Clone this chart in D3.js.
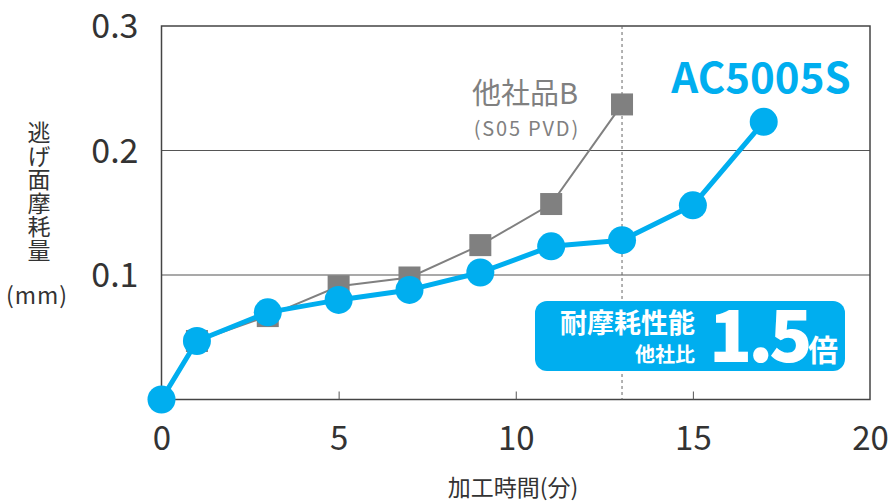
<!DOCTYPE html>
<html><head><meta charset="utf-8">
<script src="https://cdn.jsdelivr.net/npm/d3@7"></script>
<style>body{margin:0;background:#fff}svg{display:block}text{font-family:"Noto Sans CJK JP","Noto Sans",sans-serif}</style>
</head><body><svg id="c" width="890" height="502"></svg>
<script>
const xTicks = [0, 5, 10, 15, 20];
const yTicks = [0.1, 0.2, 0.3];
const yTickLabels = ["0.1", "0.2", "0.3"];
const timeA = [0, 1, 3, 5, 7, 9, 11, 13, 15, 17];
const wearA = [0, 0.047, 0.070, 0.080, 0.088, 0.102, 0.123, 0.128, 0.156, 0.223];
const timeB = [0, 1, 3, 5, 7, 9, 11, 13];
const wearB = [0, 0.047, 0.067, 0.091, 0.098, 0.124, 0.157, 0.237];
const nameA = "AC5005S";
const nameB = "他社品B";
const subB = "(S05 PVD)";
const markX = 13;

const svg = d3.select("#c");
const L = 161.5, R = 870, T = 26, B = 399.5;
const x = d3.scaleLinear().domain([0, 20]).range([L, R]);
const y = d3.scaleLinear().domain([0, 0.3]).range([B, T]);
const blue = "#00aeef", gray = "#808080", dark = "#333";
const numFont = "'Noto Sans','Open Sans',sans-serif";

// grid lines
svg.selectAll(".g").data(yTicks.slice(0, 2)).enter().append("line")
  .attr("x1", L).attr("x2", R).attr("y1", d => y(d)).attr("y2", d => y(d))
  .attr("stroke", "#555").attr("stroke-width", 1.2);
// frame
svg.append("rect").attr("x", L).attr("y", T).attr("width", R - L).attr("height", B - T)
  .attr("fill", "none").attr("stroke", "#444").attr("stroke-width", 1.5);
// dashed marker
svg.append("line").attr("x1", x(markX)).attr("x2", x(markX)).attr("y1", T).attr("y2", B)
  .attr("stroke", "#666").attr("stroke-width", 1).attr("stroke-dasharray", "3,3");

// x axis
const xa = svg.append("g").attr("transform", `translate(0,${B})`)
  .call(d3.axisBottom(x).tickValues(xTicks).tickSize(-8).tickPadding(27).tickFormat(d3.format("d")));
xa.select(".domain").remove();
xa.selectAll("line").attr("stroke", "#555").filter(d => d === 0 || d === 20).remove();
xa.selectAll("text").attr("font-size", 33).attr("fill", dark).attr("font-family", numFont).attr("dy", "0.71em");

// y labels
const ya = svg.append("g").attr("transform", `translate(${L},0)`)
  .call(d3.axisLeft(y).tickValues(yTicks).tickSize(0).tickPadding(23).tickFormat((d, i) => yTickLabels[i]));
ya.select(".domain").remove();
ya.selectAll("text").attr("font-size", 34).attr("fill", dark).attr("font-family", numFont).attr("dy", "0.35em");

// axis titles
svg.append("text").attr("x", 513).attr("y", 496).attr("text-anchor", "middle")
  .attr("font-size", 23).attr("fill", dark).text("加工時間(分)");
svg.append("text").attr("x", 39).attr("y", 121).attr("writing-mode", "vertical-rl")
  .attr("font-size", 23).attr("letter-spacing", 0.5).attr("fill", dark).text("逃げ面摩耗量");
svg.append("text").attr("x", 37).attr("y", 304).attr("text-anchor", "middle")
  .attr("font-size", 23).attr("letter-spacing", 1).attr("fill", dark).text("(mm)");

// series B
const ptsB = timeB.map((t, i) => [t, wearB[i]]);
svg.append("path").datum(ptsB).attr("fill", "none").attr("stroke", gray).attr("stroke-width", 2)
  .attr("d", d3.line().x(d => x(d[0])).y(d => y(d[1])));
svg.selectAll(".sq").data(ptsB.slice(1)).enter().append("rect")
  .attr("x", d => x(d[0]) - 11).attr("y", d => y(d[1]) - 11).attr("width", 22).attr("height", 22)
  .attr("fill", gray);

// series A
const ptsA = timeA.map((t, i) => [t, wearA[i]]);
svg.append("path").datum(ptsA).attr("fill", "none").attr("stroke", blue).attr("stroke-width", 5)
  .attr("stroke-linejoin", "round")
  .attr("d", d3.line().x(d => x(d[0])).y(d => y(d[1])));
svg.selectAll(".ci").data(ptsA).enter().append("circle")
  .attr("cx", d => x(d[0])).attr("cy", d => y(d[1])).attr("r", 14).attr("fill", blue);

// labels
svg.append("text").attr("x", 761).attr("y", 93).attr("text-anchor", "middle")
  .attr("font-size", 42).attr("font-weight", "bold").attr("fill", blue)
  .attr("font-family", "'Open Sans','Noto Sans',sans-serif").text(nameA);
svg.append("text").attr("x", 578).attr("y", 104).attr("text-anchor", "end")
  .attr("font-size", 29).attr("fill", gray).text(nameB);
svg.append("text").attr("x", 580).attr("y", 136).attr("text-anchor", "end")
  .attr("font-size", 20).attr("letter-spacing", 1.8).attr("fill", gray).attr("font-family", "'Noto Sans',sans-serif").text(subB);

// callout box
svg.append("rect").attr("x", 535).attr("y", 301).attr("width", 310).attr("height", 70)
  .attr("rx", 12).attr("fill", blue);
svg.append("text").attr("x", 695).attr("y", 333).attr("text-anchor", "end")
  .attr("font-size", 27).attr("font-weight", "bold").attr("fill", "#fff").text("耐摩耗性能");
svg.append("text").attr("x", 695).attr("y", 362).attr("text-anchor", "end")
  .attr("font-size", 20).attr("font-weight", "bold").attr("fill", "#fff").text("他社比");
svg.append("text").attr("x", 709).attr("y", 362).attr("font-size", 71).attr("font-weight", "900")
  .attr("fill", "#fff").attr("font-family", "'Open Sans','Noto Sans',sans-serif").attr("letter-spacing", -4).text("1.5");
svg.append("text").attr("x", 808).attr("y", 361).attr("font-size", 30).attr("font-weight", "bold")
  .attr("fill", "#fff").text("倍");
</script></body></html>
